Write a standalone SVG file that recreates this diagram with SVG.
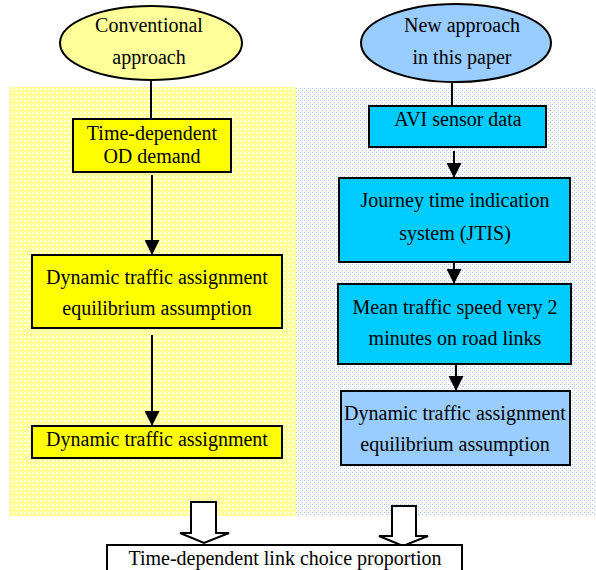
<svg xmlns="http://www.w3.org/2000/svg" width="596" height="570" viewBox="0 0 596 570">
<defs>
<pattern id="py" width="4" height="4" patternUnits="userSpaceOnUse">
<rect width="4" height="4" fill="#FFFF99"/>
<rect x="0" y="0" width="2" height="2" fill="#FFFFD6"/>
</pattern>
<pattern id="pb" width="4" height="4" patternUnits="userSpaceOnUse">
<rect width="4" height="4" fill="#FFFFFF"/>
<rect x="0" y="0" width="1" height="1" fill="#A8C0F4"/>
<rect x="2" y="2" width="1" height="1" fill="#A8C0F4"/>
<rect x="2" y="0" width="1" height="1" fill="#D6E2FA"/>
</pattern>
<marker id="ah" markerWidth="15" markerHeight="15" viewBox="0 0 15 15" refX="15" refY="7.5" orient="auto" markerUnits="userSpaceOnUse">
<path d="M0,0 L15,7.5 L0,15 Z" fill="#000"/>
</marker>
<style>
.t{font-family:"Liberation Serif","Times New Roman",serif;font-size:20px;fill:#000;text-anchor:middle}
.b{stroke:#000;stroke-width:2}
.c{stroke:#000;stroke-width:2;fill:none}
.ca{stroke:#000;stroke-width:2;fill:none;marker-end:url(#ah)}
</style>
</defs>
<g id="panels">
<rect x="9" y="87" width="287" height="429" fill="url(#py)"/>
<rect x="296" y="87" width="300" height="429" fill="url(#pb)"/>
</g>
<g id="connectors">
<line class="c" x1="151" y1="80" x2="151" y2="119"/>
<line class="ca" x1="152" y1="175" x2="152" y2="255"/>
<line class="ca" x1="152" y1="335" x2="152" y2="426"/>
<line class="c" x1="452" y1="83" x2="452" y2="106"/>
<line class="ca" x1="454" y1="151" x2="454" y2="178"/>
<line class="ca" x1="454" y1="262" x2="454" y2="284"/>
<line class="ca" x1="456" y1="364" x2="456" y2="391"/>
<path class="b" d="M191,502 H216 V533 H229 L204,543 L180,533 H191 Z" fill="#fff"/>
<path class="b" d="M392,506 H416 V536 H428 L403,546 L379,536 H392 Z" fill="#fff"/>
</g>
<g id="n_conv">
<ellipse class="b" cx="151" cy="43" rx="91" ry="37" fill="#FFFF99"/>
<text class="t" x="149" y="32">Conventional</text>
<text class="t" x="149" y="64">approach</text>
</g>
<g id="n_new">
<ellipse class="b" cx="456" cy="43" rx="95" ry="39" fill="#99CCFF"/>
<text class="t" x="462" y="32">New approach</text>
<text class="t" x="462" y="64">in this paper</text>
</g>
<g id="n_od">
<rect class="b" x="73" y="119" width="158" height="53" fill="#FFFF00"/>
<text class="t" x="152" y="140">Time-dependent</text>
<text class="t" x="152" y="163">OD demand</text>
</g>
<g id="n_dta_eq">
<rect class="b" x="32" y="255" width="250" height="73" fill="#FFFF00"/>
<text class="t" x="157" y="284">Dynamic traffic assignment</text>
<text class="t" x="157" y="315">equilibrium assumption</text>
</g>
<g id="n_dta">
<rect class="b" x="32" y="426" width="250" height="32" fill="#FFFF00"/>
<text class="t" x="157" y="446">Dynamic traffic assignment</text>
</g>
<g id="n_avi">
<rect class="b" x="369" y="106" width="177" height="41" fill="#00CCFF"/>
<text class="t" x="458" y="126">AVI sensor data</text>
</g>
<g id="n_jtis">
<rect class="b" x="339" y="178" width="231" height="84" fill="#00CCFF"/>
<text class="t" x="455" y="207">Journey time indication</text>
<text class="t" x="455" y="240">system (JTIS)</text>
</g>
<g id="n_mean">
<rect class="b" x="338" y="284" width="233" height="80" fill="#00CCFF"/>
<text class="t" x="455" y="314">Mean traffic speed very 2</text>
<text class="t" x="455" y="345">minutes on road links</text>
</g>
<g id="n_dta_eq2">
<rect class="b" x="341" y="391" width="229" height="74" fill="#99CCFF"/>
<text class="t" x="455" y="420">Dynamic traffic assignment</text>
<text class="t" x="455" y="451">equilibrium assumption</text>
</g>
<g id="n_out">
<rect class="b" x="107" y="545" width="355" height="30" fill="#fff"/>
<text class="t" x="285" y="565">Time-dependent link choice proportion</text>
</g>
</svg>
